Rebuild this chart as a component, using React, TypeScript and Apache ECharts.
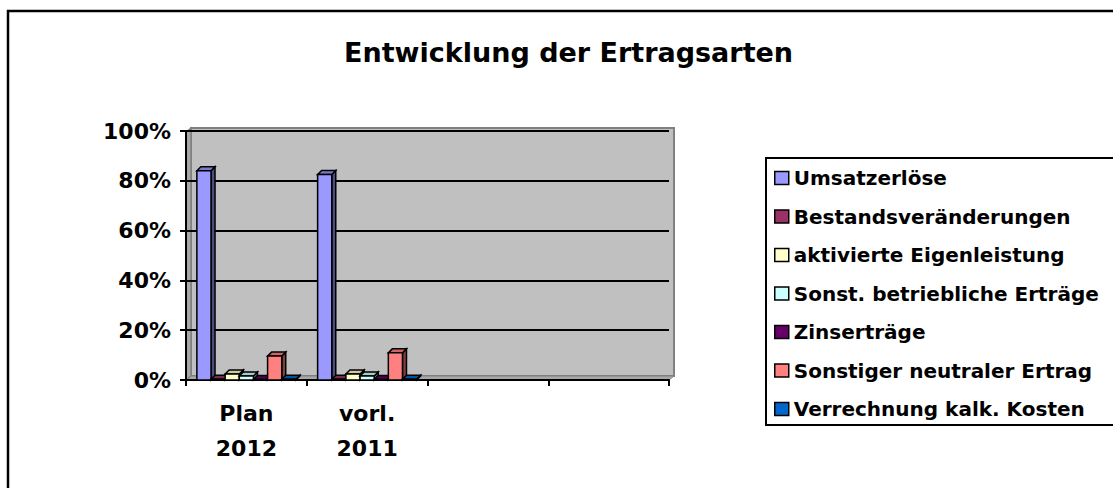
import React, { useEffect, useRef } from "react";
import * as echarts from "echarts";

const categories = ["Plan\n2012", "vorl.\n2011", "", ""];
const seriesNames = [
  "Umsatzerlöse",
  "Bestandsveränderungen",
  "aktivierte Eigenleistung",
  "Sonst. betriebliche Erträge",
  "Zinserträge",
  "Sonstiger neutraler Ertrag",
  "Verrechnung kalk. Kosten",
];
const umsatzerloese = [84, 82.5];
const bestandsveraenderungen = [0.3, 0.3];
const aktivierteEigenleistung = [2.4, 2.4];
const sonstBetrieblicheErtraege = [1.6, 1.6];
const zinsertraege = [0.2, 0.2];
const sonstigerNeutralerErtrag = [9.6, 10.9];
const verrechnungKalkKosten = [0.3, 0.3];
const seriesValues = [
  umsatzerloese,
  bestandsveraenderungen,
  aktivierteEigenleistung,
  sonstBetrieblicheErtraege,
  zinsertraege,
  sonstigerNeutralerErtrag,
  verrechnungKalkKosten,
];
const colors = ["#9999FF", "#993366", "#FFFFCC", "#CCFFFF", "#660066", "#FF8080", "#0066CC"];
const yTicks = [0, 20, 40, 60, 80, 100];

function darken(hex: string, f: number) {
  const n = parseInt(hex.slice(1), 16);
  const r = Math.round(((n >> 16) & 255) * f);
  const g = Math.round(((n >> 8) & 255) * f);
  const b = Math.round((n & 255) * f);
  return `rgb(${r},${g},${b})`;
}

const FONT = "DejaVu Sans";

export default function App() {
  const ref = useRef<HTMLDivElement>(null);
  useEffect(() => {
    if (!ref.current) return;
    const chart = echarts.init(ref.current, null, { renderer: "svg" });
    const nSeries = seriesNames.length;
    const series = seriesNames.map((name, idx) => ({
      type: "custom",
      name,
      itemStyle: { color: colors[idx] },
      encode: { x: 0, y: 1 },
      z: 5,
      data: seriesValues[idx].map((v, i) => [i, v]),
      renderItem: (params: any, api: any) => {
        const cat = api.value(0);
        const val = api.value(1);
        const base = api.coord([cat, 0]);
        const top = api.coord([cat, val]);
        const cw = api.size([1, 0])[0];
        const groupW = cw * 0.82;
        const bw = groupW / nSeries;
        const x = base[0] - groupW / 2 + idx * bw;
        const y0 = base[1];
        const y1 = top[1];
        const d = 4;
        const col = colors[idx];
        const stroke = { stroke: "#000", lineWidth: 1.5 };
        return {
          type: "group",
          children: [
            {
              type: "polygon",
              shape: { points: [[x + bw, y1], [x + bw + d, y1 - d], [x + bw + d, y0 - d], [x + bw, y0]] },
              style: { fill: darken(col, 0.5), ...stroke },
            },
            {
              type: "polygon",
              shape: { points: [[x, y1], [x + d, y1 - d], [x + bw + d, y1 - d], [x + bw, y1]] },
              style: { fill: darken(col, 0.8), ...stroke },
            },
            {
              type: "rect",
              shape: { x, y: y1, width: bw, height: Math.max(y0 - y1, 0.5) },
              style: { fill: col, ...stroke },
            },
          ],
        };
      },
    }));

    const option: any = {
      animation: false,
      backgroundColor: "#ffffff",
      title: {
        text: "Entwicklung der Ertragsarten",
        left: 344,
        top: 39,
        padding: 0,
        textStyle: { fontFamily: FONT, fontWeight: "bold", fontSize: 27, color: "#000" },
      },
      graphic: [
        {
          type: "rect",
          z: -10,
          shape: { x: 8, y: 11, width: 1200, height: 600 },
          style: { fill: "#fff", stroke: "#000", lineWidth: 2.5 },
        },
        {
          type: "rect",
          z: -5,
          shape: { x: 191, y: 128, width: 483, height: 248 },
          style: { fill: "#C0C0C0", stroke: "#808080", lineWidth: 2 },
        },
        {
          type: "polygon",
          z: -5,
          shape: { points: [[186, 132], [191, 128], [191, 376], [186, 380]] },
          style: { fill: "#A8A8A8", stroke: "#808080", lineWidth: 1.5 },
        },
        {
          type: "polygon",
          z: -5,
          shape: { points: [[186, 380], [191, 376], [674, 376], [669, 380]] },
          style: { fill: "#A8A8A8", stroke: "#808080", lineWidth: 1 },
        },
        {
          type: "rect",
          z: -5,
          shape: { x: 766, y: 158, width: 400, height: 267 },
          style: { fill: "#fff", stroke: "#000", lineWidth: 2 },
        },
      ],
      legend: {
        orient: "vertical",
        left: 774,
        top: 168,
        padding: 0,
        icon: "rect",
        itemWidth: 14,
        itemHeight: 13,
        itemGap: 18.5,
        itemStyle: { borderColor: "#000", borderWidth: 1.5 },
        textStyle: { fontFamily: FONT, fontWeight: "bold", fontSize: 20, color: "#000", lineHeight: 20, width: 320 },
        data: seriesNames,
      },
      grid: { left: 186, right: 444, top: 131, bottom: 108, containLabel: false },
      xAxis: {
        type: "category",
        data: categories,
        axisLine: { lineStyle: { color: "#000", width: 2 } },
        axisTick: { show: true, interval: 0, length: 6, lineStyle: { color: "#000", width: 2 } },
        axisLabel: {
          interval: 0,
          margin: 16,
          fontFamily: FONT,
          fontWeight: "bold",
          fontSize: 22,
          lineHeight: 35,
          color: "#000",
        },
        splitLine: { show: false },
      },
      yAxis: {
        type: "value",
        min: 0,
        max: 100,
        interval: 20,
        axisLine: { show: true, lineStyle: { color: "#000", width: 2 } },
        axisTick: { show: true, length: 6, lineStyle: { color: "#000", width: 2 } },
        axisLabel: {
          margin: 15,
          padding: [4, 0, 0, 0],
          fontFamily: FONT,
          fontWeight: "bold",
          fontSize: 22,
          color: "#000",
          formatter: (v: number) => (yTicks.includes(v) ? `${v}%` : ""),
        },
        splitLine: { show: true, lineStyle: { color: "#000", width: 2 } },
      },
      series,
    };
    chart.setOption(option);
    return () => chart.dispose();
  }, []);
  return (
    <div
      ref={ref}
      style={{ position: "fixed", left: 0, top: 0, width: 1113, height: 488 }}
    />
  );
}
